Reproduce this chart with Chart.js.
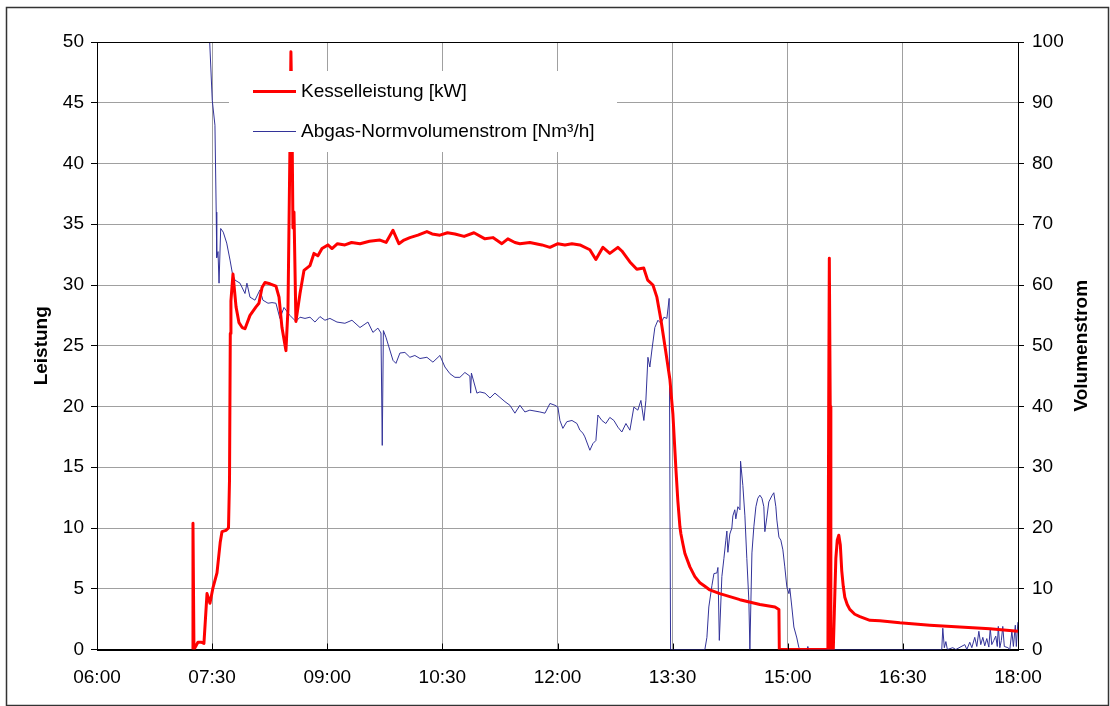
<!DOCTYPE html>
<html>
<head>
<meta charset="utf-8">
<script src="https://cdn.jsdelivr.net/npm/chart.js@4/dist/chart.umd.min.js"></script>
<style>
  html, body { margin: 0; padding: 0; background: #ffffff; }
  canvas { display: block; }
</style>
</head>
<body>
<canvas id="c" width="1110" height="706"></canvas>
<script>
// ---- Data (time in minutes after 06:00) ----
const timeTicks = [0, 90, 180, 270, 360, 450, 540, 630, 720];
const seriesNames = ["Kesselleistung [kW]", "Abgas-Normvolumenstrom [Nm³/h]"];
const axisTitles = ["Leistung", "Volumenstrom"];

const kesselTime = [75.0,75.03,75.8,78.9,81.3,83.6,86.0,88.3,90.7,93.8,
  96.3,97.7,100.8,102.8,103.6,104.2,104.7,106.3,108.7,111.0,
  113.5,115.7,119.6,124.3,126.6,129.0,131.3,135.2,139.9,142.3,144.6,
  147.7,149.3,150.8,151.6,152.4,153.2,154.0,155.5,158.7,161.8,
  166.5,169.6,172.7,175.9,180.5,183.7,188.0,193.8,199.0,205.6,213.0,221.2,226.0,231.4,
  236.0,240.0,244.6,250.9,257.9,262.0,268.1,274.0,279.8,287.0,294.7,303.3,309.5,316.5,
  321.2,326.7,330.6,338.4,347.8,354.1,360.3,365.8,371.3,377.5,
  385.3,390.0,395.5,400.9,407.2,410.3,416.6,422.0,427.4,430.5,
  434.6,437.7,440.9,444.8,447.9,450.2,452.6,454.1,455.7,456.5,458.0,459.6,463.5,467.4,
  471.3,475.2,479.1,486.9,502.6,518.2,530.0,533.1,533.4,571.4,572.0,
  572.5,573.2,573.7,575.6,576.4,577.6,578.7,579.9,581.1,582.2,583.4,584.6,586.5,
  588.5,592.4,596.4,604.2,612.0,627.6,651.1,674.5,698.0,719.9];
const kesselKW = [0,10.4,0,0.6,0.6,0.5,4.6,3.8,5.1,6.3,
  8.8,9.7,9.8,10.0,14,26.0,28.7,30.9,28.2,26.9,
  26.5,26.4,27.5,28.2,28.5,29.8,30.2,30.1,29.9,29.0,26.5,
  24.6,28,41,49.2,44,34.7,36,27.0,29.3,31.2,
  31.6,32.6,32.4,33.0,33.3,33.0,33.4,33.3,33.5,33.4,33.6,33.7,33.5,34.5,
  33.4,33.7,33.9,34.1,34.4,34.2,34.1,34.3,34.2,34.0,34.3,33.8,33.9,33.4,
  33.8,33.5,33.4,33.5,33.3,33.1,33.4,33.3,33.4,33.3,
  32.9,32.1,33.1,32.6,33.1,32.8,31.9,31.3,31.4,30.4,
  30.0,29.0,27.1,24.4,22.2,19.4,14.8,12.2,10.1,9.5,8.7,7.9,6.8,6.0,
  5.5,5.2,4.9,4.6,4.1,3.7,3.5,3.3,0,0,20,
  32.2,20,0,0,3,7.5,9.0,9.4,8.6,6.5,5.2,4.3,3.7,
  3.3,2.9,2.7,2.4,2.37,2.2,2.0,1.85,1.7,1.5];

const volTime = [87.6,88.1,90.1,92.2,93.2,93.6,94.0,94.6,95.4,96.7,
  98.7,101.4,104.0,106.1,107.9,111.8,115.7,117.2,119.6,123.5,
  127.4,129.7,133.7,136.8,139.9,143.0,146.2,150.8,155.5,158.7,
  162.6,166.5,170.4,174.3,178.2,182.1,187.6,193.8,199.3,205.6,
  211.8,215.7,219.6,222.0,223.0,223.9,225.9,228.2,231.4,233.7,
  236.8,240.7,244.6,248.5,252.5,257.9,262.6,268.1,272.0,275.9,
  279.8,283.7,287.6,291.5,292.1,292.7,297.0,299.3,303.3,307.2,
  311.1,315.0,318.9,322.8,326.7,330.6,334.5,338.4,346.2,350.2,
  354.1,358.0,360.3,361.9,364.2,367.3,371.3,375.2,377.5,379.9,
  381.4,385.3,387.7,390.0,391.6,394.7,397.8,400.9,404.1,407.2,
  410.3,413.5,416.6,419.7,422.8,425.2,427.5,429.1,430.7,432.2,
  433.8,436.1,438.5,440.8,443.2,445.5,447.3,448.4,475.2,476.8,
  478.3,480.7,482.3,484.6,485.4,486.5,488.5,490.1,491.6,492.4,
  493.2,494.7,496.3,497.1,498.6,499.4,501.0,502.6,503.1,504.9,
  506.5,508.0,509.6,510.4,512.0,513.5,515.1,516.6,518.2,519.8,
  521.3,522.1,523.7,525.2,527.6,529.1,530.7,531.5,533.1,534.6,
  536.2,537.7,539.3,540.9,541.6,543.2,544.8,547.1,548.7,550.2,
  554.9,555.7,556.5,660.4,661.2,662.4,663.6,664.8,669.0,671.4,
  678.4,680.0,682.3,683.9,686.2,687.8,689.4,690.9,692.5,694.0,
  695.6,697.2,698.3,699.5,701.1,702.6,703.8,704.6,705.8,707.0,
  708.1,709.3,712.1,713.6,715.2,716.4,717.9,718.7,719.9];
const volFlow = [106,100,90.4,86.3,72,64.5,64.9,65.5,60.3,69.3,
  68.7,66.9,64.1,61.6,60.8,60.3,58.6,60.3,58.0,57.5,
  59.2,57.5,57.0,57.1,57.0,54.5,56.3,55.0,54.0,54.7,
  54.5,54.7,53.9,54.8,54.2,54.5,53.9,53.7,54.2,53.0,
  53.9,52.2,52.9,52.1,33.6,52.5,51.4,49.8,47.6,47.1,
  48.8,48.9,48.1,48.4,47.9,48.1,47.3,48.4,46.5,45.4,
  44.8,44.8,45.6,45.0,42.2,45.5,42.2,42.4,42.2,41.4,
  42.2,41.5,40.8,40.2,38.9,40.2,39.1,39.4,39.1,38.9,
  40.5,40.2,39.9,37.7,36.4,37.5,37.7,37.2,36.1,35.6,
  35.0,32.8,33.9,34.4,38.6,37.7,37.2,38.2,37.7,36.6,
  35.8,37.2,36.1,39.9,39.4,41.0,37.7,41.0,48.1,46.5,
  49.3,53.0,54.2,53.7,54.7,54.5,57.8,0,0,2,
  7,10.5,12.5,12.6,13.5,1.5,12,15,18,19.5,
  16,19,20,22,23,21.5,23.5,23,31,27,
  22,15,8,0,15.9,20.2,23.5,24.9,25.4,24.9,
  23.5,19.4,21.8,24.3,25.3,25.8,23.5,21.3,18.5,18.0,
  16.4,13.6,10.3,9.2,10.1,7.0,3.7,1.9,0.3,0,
  0,0.5,0,0,3.5,0.3,1.3,0,0.3,0,
  0.8,0,1.2,0.3,2.0,0.5,3.0,0.8,2.0,0.6,
  1.8,0.4,3.5,0.8,1.5,2.2,0.5,3.8,0.3,1.5,
  3.8,0.5,0.3,0,3.0,0.5,4.0,0.5,4.5];

// ---- helpers ----
const FONT = '"Liberation Sans", Arial, Helvetica, sans-serif';
const RED = '#ff0000';
const BLUE = '#333399';
function fmtTime(m) {
  const h = 6 + Math.floor(m / 60);
  const mm = Math.round(m % 60);
  return String(h).padStart(2, '0') + ':' + String(mm).padStart(2, '0');
}
const toXY = (xs, ys) => xs.map((x, i) => ({ x: x, y: ys[i] }));

const decorPlugin = {
  id: 'decor',
  beforeDraw(chart) {
    const ctx = chart.ctx;
    ctx.save();
    ctx.fillStyle = '#ffffff';
    ctx.fillRect(0, 0, chart.width, chart.height);
    ctx.restore();
  },
  afterDatasetsDraw(chart) {
    const ctx = chart.ctx;
    const a = chart.chartArea;
    const xs = chart.scales.x;
    ctx.save();
    // legend box (opaque, Excel style)
    ctx.fillStyle = '#ffffff';
    ctx.fillRect(229, 71, 388, 81);
    ctx.font = '19px ' + FONT;
    ctx.textBaseline = 'middle';
    ctx.textAlign = 'left';
    ctx.fillStyle = '#000000';
    ctx.strokeStyle = RED; ctx.lineWidth = 3;
    ctx.beginPath(); ctx.moveTo(253, 91.5); ctx.lineTo(296, 91.5); ctx.stroke();
    ctx.fillText(seriesNames[0], 301, 92);
    ctx.strokeStyle = BLUE; ctx.lineWidth = 1;
    ctx.beginPath(); ctx.moveTo(253, 131.5); ctx.lineTo(296, 131.5); ctx.stroke();
    ctx.fillText(seriesNames[1], 301, 132);
    // inside tick marks on x axis
    ctx.strokeStyle = '#000000'; ctx.lineWidth = 1;
    timeTicks.forEach(t => {
      const px = Math.round(xs.getPixelForValue(t)) + 0.5;
      ctx.beginPath(); ctx.moveTo(px, a.bottom); ctx.lineTo(px, a.bottom - 6); ctx.stroke();
    });
    // plot border
    ctx.strokeStyle = '#000000'; ctx.lineWidth = 1;
    ctx.strokeRect(Math.round(a.left) + 0.5, Math.round(a.top) + 0.5,
                   Math.round(a.right - a.left), Math.round(a.bottom - a.top));
    ctx.restore();
  },
  afterDraw(chart) {
    const ctx = chart.ctx;
    const a = chart.chartArea;
    const cy = (a.top + a.bottom) / 2;
    ctx.save();
    ctx.fillStyle = '#000000';
    ctx.font = 'bold 19px ' + FONT;
    ctx.textAlign = 'center';
    ctx.textBaseline = 'middle';
    ctx.translate(42, cy);
    ctx.rotate(-Math.PI / 2);
    ctx.fillText(axisTitles[0], 0, 0);
    ctx.restore();
    ctx.save();
    ctx.fillStyle = '#000000';
    ctx.font = 'bold 19px ' + FONT;
    ctx.textAlign = 'center';
    ctx.textBaseline = 'middle';
    ctx.translate(1082, cy);
    ctx.rotate(-Math.PI / 2);
    ctx.fillText(axisTitles[1], 0, 0);
    ctx.restore();
    // outer frame
    ctx.save();
    ctx.strokeStyle = '#333333'; ctx.lineWidth = 1.5;
    ctx.strokeRect(6.5, 7.5, 1102, 698);
    ctx.restore();
  }
};

new Chart(document.getElementById('c'), {
  type: 'line',
  data: {
    datasets: [
      {
        label: seriesNames[0],
        data: toXY(kesselTime, kesselKW),
        borderColor: RED, backgroundColor: RED,
        borderWidth: 3, pointRadius: 0, tension: 0,
        borderJoinStyle: 'round',
        yAxisID: 'y', order: 0
      },
      {
        label: seriesNames[1],
        data: toXY(volTime, volFlow),
        borderColor: BLUE, backgroundColor: BLUE,
        borderWidth: 1, pointRadius: 0, tension: 0,
        yAxisID: 'y1', order: 1
      }
    ]
  },
  options: {
    responsive: false,
    animation: false,
    devicePixelRatio: 1,
    parsing: false,
    layout: { padding: { top: 42, left: 0, right: 0, bottom: 0 } },
    plugins: { legend: { display: false }, tooltip: { enabled: false } },
    scales: {
      x: {
        type: 'linear', min: 0, max: 720,
        afterBuildTicks: (s) => { s.ticks = timeTicks.map(v => ({ value: v })); },
        afterFit: (s) => { s.height = 56.5; },
        ticks: {
          callback: (v) => fmtTime(v),
          font: { family: FONT, size: 19 }, color: '#000000',
          padding: 17, maxRotation: 0, autoSkip: false
        },
        grid: { color: '#a0a0a0', lineWidth: 1, drawTicks: false },
        border: { color: '#000000', width: 1 }
      },
      y: {
        position: 'left', min: 0, max: 50,
        afterFit: (s) => { s.width = 97; },
        ticks: {
          stepSize: 5, font: { family: FONT, size: 19 }, color: '#000000', padding: 7
        },
        grid: { color: '#a0a0a0', lineWidth: 1, drawTicks: true, tickLength: 6, tickColor: '#000000' },
        border: { color: '#000000', width: 1 }
      },
      y1: {
        position: 'right', min: 0, max: 100,
        afterFit: (s) => { s.width = 92; },
        ticks: {
          stepSize: 10, font: { family: FONT, size: 19 }, color: '#000000', padding: 8
        },
        grid: { drawOnChartArea: false, drawTicks: true, tickLength: 6, tickColor: '#000000' },
        border: { color: '#000000', width: 1 }
      }
    }
  },
  plugins: [decorPlugin]
});
</script>
</body>
</html>
